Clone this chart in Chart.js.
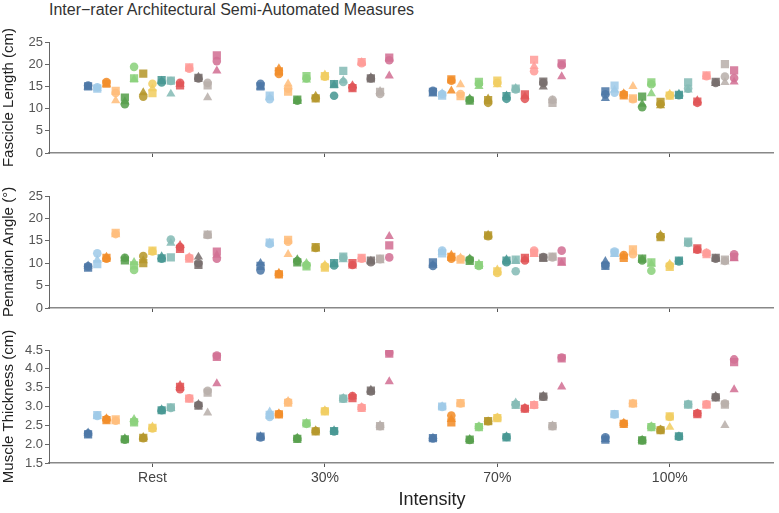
<!DOCTYPE html>
<html>
<head>
<meta charset="utf-8">
<script src="https://cdn.jsdelivr.net/npm/chart.js@4"></script>
<style>
  body { margin: 0; background: #fff; font-family: "Liberation Sans", Arial, sans-serif; }
  #wrap { position: relative; width: 779px; height: 513px; overflow: hidden; }
  .panel { position: absolute; left: 0; width: 779px; }
  #title { position: absolute; left: 49px; top: 0px; font-size: 16px; line-height: 20px; color: #333; white-space: nowrap; }
  #xlabel { position: absolute; left: 382px; width: 100px; text-align: center; top: 490px; font-size: 18px; line-height: 18px; color: #222; }
</style>
</head>
<body>
<div id="wrap">
  <div id="title">Inter−rater Architectural Semi-Automated Measures</div>
  <div class="panel" style="top:0;height:170px"><canvas id="c1"></canvas></div>
  <div class="panel" style="top:170px;height:150px"><canvas id="c2"></canvas></div>
  <div class="panel" style="top:320px;height:193px"><canvas id="c3"></canvas></div>
  <div id="xlabel">Intensity</div>
</div>
<script>
// categories
const intensities = ['Rest', '30%', '70%', '100%'];
// 15 subjects, 3 raters: [circle, square, triangle]
const raterShapes = ['circle', 'rect', 'triangle'];
const subjectColors = ['#4e79a7', '#a0cbe8', '#f28e2b', '#ffbe7d', '#59a14f', '#8cd17d', '#b6992d', '#f1ce63',
                       '#499894', '#86bcb6', '#e15759', '#ff9d9a', '#79706e', '#bab0ac', '#d37295'];

// Fascicle length (cm)
const fascicleRest = [[15.2,15.0,14.9],[14.8,14.5,14.6],[16.0,15.6,15.5],[13.5,14.0,11.8],[11.0,12.5,11.6],[19.4,16.8,16.6],[12.7,17.9,13.6],[15.6,13.5,14.5],[15.9,16.4,16.2],[16.2,16.3,13.3],[15.8,15.2,15.5],[19.0,19.3,19.0],[16.8,16.9,17.1],[15.8,15.2,12.5],[20.7,22.0,18.5]];
const fascicle30 = [[15.6,15.0,14.9],[12.1,12.9,12.5],[17.8,18.4,19.0],[14.5,13.8,15.6],[11.8,12.0,11.7],[16.8,17.3,16.5],[12.4,12.3,12.8],[17.2,17.3,17.6],[12.9,15.5,15.3],[16.0,18.5,16.3],[14.8,14.6,15.2],[20.2,20.5,20.4],[16.8,16.8,17.0],[13.3,13.8,13.9],[20.9,21.5,17.4]];
const fascicle70 = [[14.0,13.8,13.3],[13.3,12.9,13.4],[16.3,16.6,14.0],[13.3,12.8,15.4],[12.0,11.8,12.2],[15.6,16.0,15.0],[11.3,11.9,12.2],[15.8,16.3,15.4],[12.2,12.8,12.9],[14.3,14.5,14.6],[12.2,13.2,12.7],[18.4,21.0,19.5],[15.8,16.1,14.9],[12.0,11.3,11.8],[19.8,20.2,17.2]];
const fascicle100 = [[13.2,13.9,12.3],[13.6,15.2,14.2],[13.2,13.0,13.4],[12.1,12.3,15.0],[10.3,12.7,11.0],[15.5,15.9,13.4],[11.0,11.5,10.7],[13.0,12.9,13.3],[13.0,13.1,13.3],[14.5,15.9,14.2],[11.3,11.6,11.8],[17.3,17.5,17.2],[15.8,16.0,15.7],[17.2,20.0,15.9],[16.9,18.6,16.0]];

// Pennation angle (deg)
const pennationRest = [[9.3,9.0,9.4],[12.2,9.8,10.7],[11.0,11.2,11.4],[16.5,16.8,16.4],[11.2,10.6,11.0],[8.5,9.5,10.2],[11.6,10.0,10.6],[12.6,12.8,12.5],[11.0,11.1,11.5],[15.3,11.3,14.5],[13.6,13.2,14.0],[11.2,11.0,11.3],[10.0,9.6,11.4],[16.3,16.4,16.2],[11.0,12.6,11.8]];
const pennation30 = [[8.4,9.4,10.0],[14.3,14.6,14.5],[7.6,7.5,7.8],[14.8,15.2,12.0],[10.5,10.2,10.8],[9.6,9.3,10.0],[13.4,13.6,13.2],[9.3,9.0,9.6],[9.5,10.0,9.8],[11.2,11.5,10.8],[9.6,10.0,9.4],[11.0,11.2,10.8],[10.2,10.6,10.5],[10.9,11.0,10.6],[11.3,14.0,16.0]];
const pennation70 = [[9.4,10.2,9.6],[12.8,12.2,12.5],[11.0,11.4,11.8],[11.0,10.8,11.2],[10.8,10.5,11.0],[9.4,9.6,9.8],[16.0,16.2,16.3],[7.8,8.2,8.5],[10.2,10.6,10.8],[8.2,10.8,10.4],[10.6,11.2,10.8],[12.8,12.3,12.0],[11.4,11.2,11.0],[11.3,11.5,11.2],[12.8,10.4,10.0]];
const pennation100 = [[9.6,9.4,10.4],[12.6,12.3,12.0],[11.8,11.2,11.5],[12.0,13.1,12.5],[10.6,11.0,10.8],[8.3,10.2,9.8],[16.0,15.8,16.3],[9.5,9.2,9.8],[10.4,10.6,10.3],[14.5,14.8,14.3],[13.0,13.3,12.8],[12.3,12.0,12.2],[11.0,11.2,11.0],[10.5,10.8,10.3],[12.0,11.4,11.0]];

// Muscle thickness (cm)
const thicknessRest = [[2.28,2.26,2.30],[2.75,2.77,2.74],[2.66,2.64,2.68],[2.62,2.66,2.60],[2.12,2.13,2.15],[2.60,2.58,2.66],[2.16,2.17,2.18],[2.42,2.43,2.46],[2.90,2.90,2.92],[2.96,2.98,2.95],[3.46,3.52,3.56],[3.22,3.21,3.20],[3.04,3.02,3.06],[3.42,3.37,2.83],[4.35,4.32,3.61]];
const thickness30 = [[2.18,2.20,2.20],[2.72,2.78,2.86],[2.80,2.79,2.81],[3.12,3.10,3.14],[2.15,2.14,2.16],[2.54,2.55,2.56],[2.35,2.34,2.36],[2.88,2.87,2.89],[2.34,2.35,2.36],[3.21,3.21,3.22],[3.28,3.22,3.26],[2.97,2.96,2.98],[3.40,3.42,3.44],[2.48,2.48,2.50],[4.43,4.40,3.66]];
const thickness70 = [[2.15,2.16,2.16],[2.99,3.00,3.00],[2.76,2.58,2.66],[3.08,3.09,3.07],[2.11,2.12,2.13],[2.46,2.45,2.47],[2.61,2.61,2.60],[2.70,2.69,2.70],[2.19,2.18,2.20],[3.06,3.04,3.10],[2.95,2.94,2.96],[3.04,3.04,3.03],[3.26,3.26,3.28],[2.48,2.48,2.49],[4.30,4.28,3.52]];
const thickness100 = [[2.18,2.12,2.13],[2.79,2.80,2.78],[2.55,2.54,2.56],[3.08,3.08,3.07],[2.10,2.10,2.11],[2.46,2.45,2.47],[2.38,2.37,2.38],[2.72,2.74,2.45],[2.20,2.21,2.20],[3.06,3.05,3.05],[2.82,2.80,2.81],[3.06,3.05,3.04],[3.25,3.24,3.27],[3.08,3.05,2.50],[4.25,4.18,3.45]];

// point size per marker shape (rect radius is larger so the square matches the circle)
const shapeRadius = { circle: 4.3, rect: 5.8, triangle: 5.3 };

function dodge(k) {
    return -0.4 + (0.8 / subjectColors.length) * (k + 0.5);
}

function buildDatasets(byIntensity) {
    const sets = [];
    raterShapes.forEach((shape, r) => {
        subjectColors.forEach((col, k) => {
            sets.push({
                data: byIntensity.map((rows, i) => ({ x: i + dodge(k), y: rows[k][r] })),
                pointStyle: shape,
                pointRadius: shapeRadius[shape],
                backgroundColor: col + 'e0',
                borderColor: col + 'e0',
                borderWidth: 0,
                showLine: false
            });
        });
    });
    return sets;
}

function makePanel(id, byIntensity, yTitle, yMin, yMax, yStep, showLabels, padTop, xHeight, fmt) {
    return new Chart(document.getElementById(id), {
        type: 'scatter',
        data: { datasets: buildDatasets(byIntensity) },
        options: {
            responsive: true,
            maintainAspectRatio: false,
            animation: false,
            events: [],
            layout: { padding: { top: padTop, right: 2, left: 0, bottom: 0 } },
            plugins: { legend: { display: false }, tooltip: { enabled: false } },
            scales: {
                x: {
                    type: 'linear',
                    min: -0.6,
                    max: 3.6,
                    afterBuildTicks: s => { s.ticks = intensities.map((_, i) => ({ value: i })); },
                    afterFit: s => { s.height = xHeight; },
                    grid: { drawOnChartArea: false, tickLength: 4, color: '#555', tickWidth: 1 },
                    border: { color: '#888', width: 1.5 },
                    ticks: {
                        display: showLabels,
                        padding: 3,
                        color: '#444',
                        font: { family: '"Liberation Sans", Arial', size: 14 },
                        callback: v => intensities[v]
                    }
                },
                y: {
                    min: yMin,
                    max: yMax,
                    afterFit: s => { s.width = 49; },
                    grid: { drawOnChartArea: false, tickLength: 4, color: '#666' },
                    border: { color: '#666', width: 1 },
                    ticks: {
                        stepSize: yStep,
                        padding: 2,
                        color: '#555',
                        font: { family: '"Liberation Sans", Arial', size: 13 },
                        callback: fmt
                    },
                    title: {
                        display: true,
                        text: yTitle,
                        color: '#222',
                        padding: { top: 0, bottom: 0 },
                        font: { family: '"Liberation Sans", Arial', size: 15 }
                    }
                }
            }
        }
    });
}

makePanel('c1', [fascicleRest, fascicle30, fascicle70, fascicle100], 'Fascicle Length (cm)',
          0, 25, 5, false, 42, 17, v => v);
makePanel('c2', [pennationRest, pennation30, pennation70, pennation100], 'Pennation Angle (°)',
          0, 25, 5, false, 26, 12, v => v);
makePanel('c3', [thicknessRest, thickness30, thickness70, thickness100], 'Muscle Thickness (cm)',
          1.5, 4.5, 0.5, true, 30, 50, v => v.toFixed(1));
</script>
</body>
</html>
